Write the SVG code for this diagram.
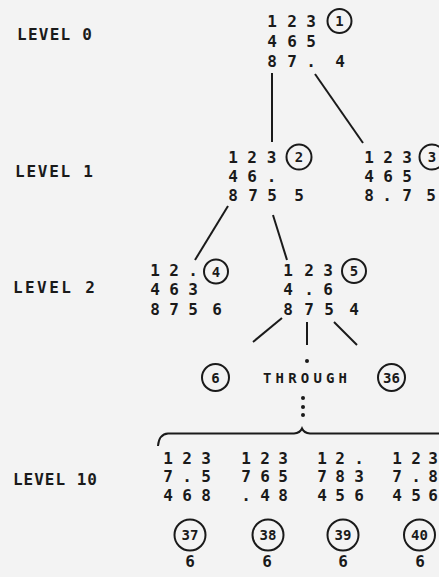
<svg xmlns="http://www.w3.org/2000/svg" width="439" height="577" viewBox="0 0 439 577">
<style>
text{font-family:"DejaVu Sans Mono","Liberation Mono",monospace;font-weight:bold;fill:#1a1a1a}
.d{font-size:16px;text-anchor:middle}
.c{font-size:14px;text-anchor:middle}
.lv{font-size:16px}
circle.r{fill:none;stroke:#1a1a1a;stroke-width:2}
#connectors line{stroke:#1a1a1a;stroke-width:2}
.dot{fill:#1a1a1a}
</style>
<rect width="439" height="577" fill="#f3f3f3"/>
<g id="labels">
<text class="lv" x="17" y="40" textLength="75" lengthAdjust="spacing">LEVEL 0</text>
<text class="lv" x="15" y="177" textLength="78" lengthAdjust="spacing">LEVEL 1</text>
<text class="lv" x="13" y="293" textLength="82" lengthAdjust="spacing">LEVEL 2</text>
<text class="lv" x="13" y="485" textLength="84" lengthAdjust="spacing">LEVEL 10</text>
</g>
<g id="connectors">
<line x1="272" y1="73" x2="272" y2="142"/>
<line x1="315" y1="74" x2="363" y2="143"/>
<line x1="228" y1="206" x2="195" y2="260"/>
<line x1="273" y1="215" x2="287" y2="260"/>
<line x1="282" y1="318" x2="253" y2="342"/>
<line x1="307" y1="322" x2="307" y2="345"/>
<line x1="334" y1="322" x2="357" y2="345"/>
<circle class="dot" cx="307" cy="361" r="2"/>
<circle class="dot" cx="303" cy="398" r="2"/>
<circle class="dot" cx="303" cy="407" r="2"/>
<circle class="dot" cx="303" cy="415" r="2"/>
<path d="M158,446 Q159,434 168,433.5 L294,433.5 Q300,433 302,428.5 Q304,433 310,433.5 L445,433.5" fill="none" stroke="#1a1a1a" stroke-width="2"/>
</g>
<g id="n1">
<text class="d" x="272 292 311" y="26.5">123</text>
<text class="d" x="272 292 311" y="46.5">465</text>
<text class="d" x="272 292 311 340" y="66.5">87.4</text>
<circle class="r" cx="339.5" cy="21" r="12"/>
<text class="c" x="339.5" y="26">1</text>
</g>
<g id="n2">
<text class="d" x="233 252 271.5" y="163">123</text>
<text class="d" x="233 252 271.5" y="182">46.</text>
<text class="d" x="233 253 272 299" y="201">8755</text>
<circle class="r" cx="299" cy="157" r="12.5"/>
<text class="c" x="299" y="162">2</text>
</g>
<g id="n3">
<text class="d" x="369 388 407" y="163">123</text>
<text class="d" x="369 388 407" y="182">465</text>
<text class="d" x="369 387 407 431" y="201">8.75</text>
<circle class="r" cx="432" cy="157" r="12.5"/>
<text class="c" x="432" y="162">3</text>
</g>
<g id="n4">
<text class="d" x="155 174 193" y="276">12.</text>
<text class="d" x="155 174 193" y="295">463</text>
<text class="d" x="155 174 193 217" y="315">8756</text>
<circle class="r" cx="216" cy="271.5" r="12"/>
<text class="c" x="216" y="276.5">4</text>
</g>
<g id="n5">
<text class="d" x="288 309 328" y="276">123</text>
<text class="d" x="288 309 328" y="295">4.6</text>
<text class="d" x="288 309 329 354" y="315">8754</text>
<circle class="r" cx="354" cy="271" r="12"/>
<text class="c" x="354" y="276">5</text>
</g>
<g id="n6">
<circle class="r" cx="215.5" cy="377.5" r="13.5"/>
<text class="c" x="215.5" y="382.5">6</text>
</g>
<g id="through">
<text class="c" x="263" y="383" style="text-anchor:start" textLength="84" lengthAdjust="spacing">THROUGH</text>
</g>
<g id="n36">
<circle class="r" cx="391.5" cy="377.5" r="13.5"/>
<text class="c" x="391.5" y="382.5">36</text>
</g>
<g id="n37">
<text class="d" x="168 187 206" y="463.5">123</text>
<text class="d" x="168 187 206" y="482">7.5</text>
<text class="d" x="168 187 206" y="501">468</text>
<circle class="r" cx="190" cy="535" r="15.5"/>
<text class="c" x="190" y="540">37</text>
<text class="d" x="190" y="567">6</text>
</g>
<g id="n38">
<text class="d" x="246 265 283" y="463.5">123</text>
<text class="d" x="246 265 283" y="482">765</text>
<text class="d" x="246 265 283" y="501">.48</text>
<circle class="r" cx="268" cy="535" r="15.5"/>
<text class="c" x="268" y="540">38</text>
<text class="d" x="267" y="567">6</text>
</g>
<g id="n39">
<text class="d" x="322 340 359" y="463.5">12.</text>
<text class="d" x="322 340 359" y="482">783</text>
<text class="d" x="322 340 359" y="501">456</text>
<circle class="r" cx="343" cy="535" r="15.5"/>
<text class="c" x="343" y="540">39</text>
<text class="d" x="343" y="567">6</text>
</g>
<g id="n40">
<text class="d" x="397 416 433" y="463.5">123</text>
<text class="d" x="397 416 433" y="482">7.8</text>
<text class="d" x="397 416 433" y="501">456</text>
<circle class="r" cx="419.5" cy="535" r="15.5"/>
<text class="c" x="419.5" y="540">40</text>
<text class="d" x="420" y="567">6</text>
</g>
</svg>
